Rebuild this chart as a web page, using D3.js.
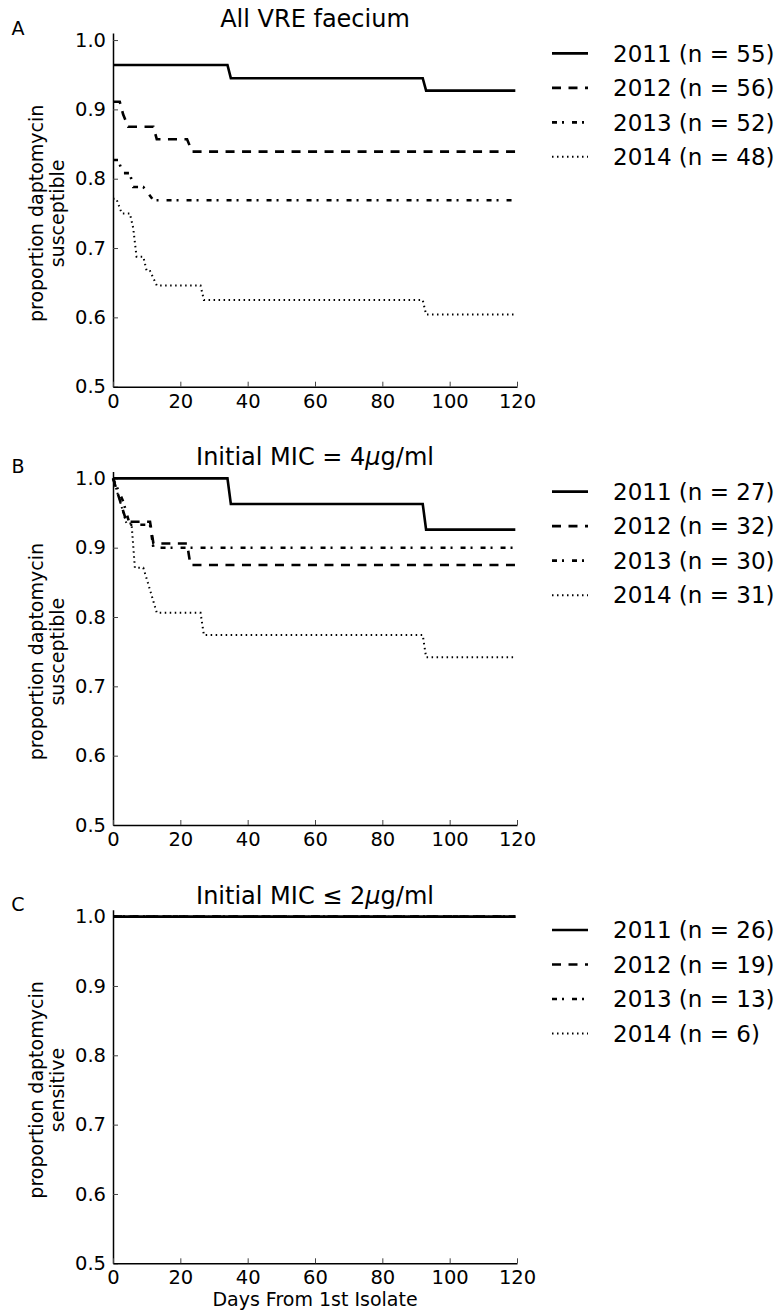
<!DOCTYPE html>
<html>
<head>
<meta charset="utf-8">
<script src="https://cdn.jsdelivr.net/npm/d3@7"></script>
<style>
  body { margin: 0; background: #fff; }
  text { font-family: "DejaVu Sans", sans-serif; fill: #000; }
</style>
</head>
<body>
<div id="chart"></div>
<script>
var W = 783, H = 1315;

// data
var years = ["2011", "2012", "2013", "2014"];
var panelLetters = ["A", "B", "C"];
var nA = [55, 56, 52, 48];
var nB = [27, 32, 30, 31];
var nC = [26, 19, 13, 6];
var yTicks = [0.5, 0.6, 0.7, 0.8, 0.9, 1.0];
var xTicks = [0, 20, 40, 60, 80, 100, 120];

// panel A: [day, proportion]
var a2011 = [[0, 0.964], [34, 0.964], [35, 0.945], [92, 0.945], [93, 0.927], [119.5, 0.927]];
var a2012 = [[0, 0.911], [2, 0.911], [3, 0.893], [4.5, 0.875], [12, 0.875], [13, 0.857], [22, 0.857], [23.5, 0.839], [119.5, 0.839]];
var a2013 = [[0, 0.827], [1.5, 0.827], [3, 0.808], [5, 0.808], [6, 0.788], [9, 0.788], [12, 0.769], [119.5, 0.769]];
var a2014 = [[0, 0.771], [1, 0.771], [2.6, 0.75], [5, 0.75], [6, 0.729], [6.5, 0.708], [7, 0.6875], [9, 0.6875], [10, 0.667], [11, 0.667], [13, 0.646], [26, 0.646], [27, 0.625], [92, 0.625], [93, 0.604], [119.5, 0.604]];

// panel B
var b2011 = [[0, 1.0], [34, 1.0], [35, 0.963], [92, 0.963], [93, 0.926], [119.5, 0.926]];
var b2012 = [[0, 1.0], [2, 0.969], [4, 0.9375], [11, 0.9375], [12, 0.906], [22, 0.906], [23, 0.875], [119.5, 0.875]];
var b2013 = [[0, 1.0], [3, 0.967], [5, 0.933], [11, 0.933], [12, 0.9], [119.5, 0.9]];
var b2014 = [[0, 1.0], [2, 0.968], [4, 0.935], [5.5, 0.935], [6, 0.903], [6.5, 0.871], [9, 0.871], [11, 0.839], [13, 0.806], [26, 0.806], [27, 0.774], [92, 0.774], [93, 0.742], [119.5, 0.742]];

// panel C
var c2011 = [[0, 1.0], [119.5, 1.0]];
var c2012 = [[0, 1.0], [119.5, 1.0]];
var c2013 = [[0, 1.0], [119.5, 1.0]];
var c2014 = [[0, 1.0], [119.5, 1.0]];

var panels = [
    { curves: [a2011, a2012, a2013, a2014], n: nA, ylab2: "susceptible" },
    { curves: [b2011, b2012, b2013, b2014], n: nB, ylab2: "susceptible" },
    { curves: [c2011, c2012, c2013, c2014], n: nC, ylab2: "sensitive" }
];

// styles per year
var dashes = [null, "9,7.5", "5,5,2,8", "1.5,3.5"];
var widths = [2.6, 2.6, 2.6, 2];

var bottoms = [386.7, 825, 1263.3];
var unit = 693.3; // px per 1.0 of proportion

var x = d3.scaleLinear().domain([0, 120]).range([113, 517]);

var svg = d3.select("#chart").append("svg")
    .attr("width", W)
    .attr("height", H);

panels.forEach(function (p, pi) {
    var bottom = bottoms[pi];
    var y = d3.scaleLinear().domain([0.5, 1.01]).range([bottom, bottom - 0.51 * unit]);
    var g = svg.append("g");

    // axes, ticks pointing in
    var yAxis = g.append("g")
        .attr("transform", "translate(" + x(0) + ",0)")
        .call(d3.axisLeft(y).tickValues(yTicks).tickFormat(d3.format(".1f"))
            .tickSizeInner(-5).tickSizeOuter(0).tickPadding(7));
    var xAxis = g.append("g")
        .attr("transform", "translate(0," + bottom + ")")
        .call(d3.axisBottom(x).tickValues(xTicks).tickFormat(d3.format("d"))
            .tickSizeInner(-5).tickSizeOuter(0).tickPadding(7));

    [yAxis, xAxis].forEach(function (ax) {
        ax.select(".domain").attr("stroke", "#000").attr("stroke-width", 1.5);
        ax.selectAll(".tick line").attr("stroke", "#444").attr("stroke-width", 1);
        ax.selectAll(".tick text").attr("font-size", "19.5px")
            .attr("font-family", "DejaVu Sans, sans-serif").attr("fill", "#000");
    });

    // curves
    var line = d3.line()
        .x(function (d) { return x(d[0]); })
        .y(function (d) { return y(d[1]); });

    p.curves.forEach(function (c, i) {
        g.append("path")
            .datum(c)
            .attr("d", line)
            .attr("fill", "none")
            .attr("stroke", "#000")
            .attr("stroke-width", widths[i])
            .attr("stroke-dasharray", dashes[i]);
    });

    // title
    var top = y(1.0);
    var title = g.append("text")
        .attr("x", (x(0) + x(120)) / 2)
        .attr("y", top - 13)
        .attr("text-anchor", "middle")
        .attr("font-size", "24px");
    if (pi === 0) {
        title.text("All VRE faecium");
    } else {
        title.append("tspan").text(pi === 1 ? "Initial MIC = 4" : "Initial MIC \u2264 2");
        title.append("tspan").attr("font-style", "italic").text("\u03bc");
        title.append("tspan").text("g/ml");
    }

    // panel letter
    g.append("text")
        .attr("x", 18)
        .attr("y", top - 5.5)
        .attr("text-anchor", "middle")
        .attr("font-size", "19px")
        .text(panelLetters[pi]);

    // y label
    var midY = (y(0.5) + y(1.0)) / 2;
    g.append("text")
        .attr("transform", "translate(43," + midY + ") rotate(-90)")
        .attr("text-anchor", "middle")
        .attr("font-size", "19px")
        .text("proportion daptomycin");
    g.append("text")
        .attr("transform", "translate(64," + midY + ") rotate(-90)")
        .attr("text-anchor", "middle")
        .attr("font-size", "19px")
        .text(p.ylab2);

    // legend
    years.forEach(function (yr, i) {
        var ly = top + 13.3 + i * 34.5;
        g.append("line")
            .attr("x1", 552).attr("x2", 588)
            .attr("y1", ly).attr("y2", ly)
            .attr("stroke", "#000")
            .attr("stroke-width", widths[i])
            .attr("stroke-dasharray", dashes[i]);
        g.append("text")
            .attr("x", 613)
            .attr("y", ly)
            .attr("dy", "0.36em")
            .attr("font-size", "23px")
            .text(yr + " (n = " + p.n[i] + ")");
    });
});

// x label
svg.append("text")
    .attr("x", (x(0) + x(120)) / 2)
    .attr("y", 1306)
    .attr("text-anchor", "middle")
    .attr("font-size", "19px")
    .text("Days From 1st Isolate");
</script>
</body>
</html>
